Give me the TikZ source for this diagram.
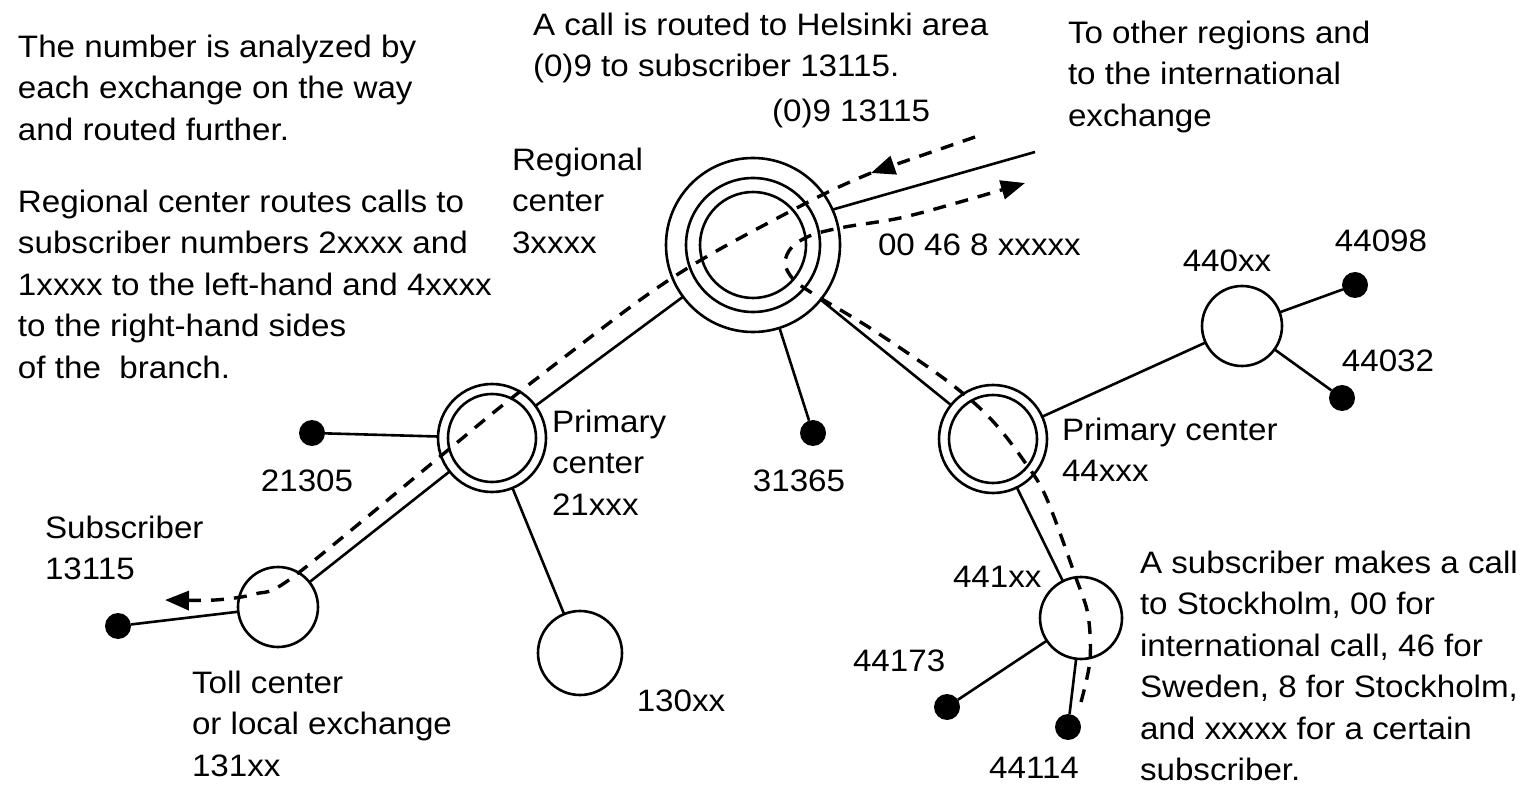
\documentclass[tikz,border=0pt]{standalone}
\usepackage{fontspec}
\setmainfont{Liberation Sans}[FakeStretch=1.07]
\usetikzlibrary{arrows.meta}
\begin{document}
\begin{tikzpicture}[x=0.5pt,y=-0.5pt,
  every node/.style={inner sep=0pt,outer sep=0pt},
  txt/.style={font=\fontsize{15.5}{20.75}\selectfont},
  lbl/.style={txt,anchor=base west},
  clbl/.style={txt,anchor=base},
  blk/.style={txt,anchor=north west,align=left},
  exch/.style={circle,draw,line width=1.3pt,minimum size=#1},
  subdot/.style={circle,fill,minimum size=13pt},
  link/.style={line width=1.3pt},
  route/.style={line width=1.7pt,dash pattern=on 6.5pt off 5pt},
  tip/.style={-{Triangle[length=12pt,width=9.5pt]}}
]
\path[use as bounding box,fill=white] (0,0) rectangle (1535,785);

% exchanges
\node[exch=87pt] (R) at (753,245) {};
\node[exch=67pt] (Rmid) at (R.center) {};
\node[exch=53pt] (Rin) at (R.center) {};
\node[exch=54pt] (P1) at (492,438) {};
\node[exch=44pt] (P1in) at (P1.center) {};
\node[exch=54pt] (P2) at (993,439) {};
\node[exch=44pt] (P2in) at (P2.center) {};
\node[exch=40pt] (T) at (278,607) {};
\node[exch=42pt] (C130) at (580,653) {};
\node[exch=41pt] (C441) at (1081,618) {};
\node[exch=40pt] (C440) at (1242,326) {};

% subscribers
\node[subdot] (Dsub) at (118,626) {};
\node[subdot] (D21305) at (312,433) {};
\node[subdot] (D31365) at (813,433) {};
\node[subdot] (D44098) at (1355,285) {};
\node[subdot] (D44032) at (1342,398) {};
\node[subdot] (D44173) at (947,707) {};
\node[subdot] (D44114) at (1068,727) {};
\coordinate (Ext) at (1035,152);

% links
\draw[link] (R.24) -- (Ext);
\draw[link] (R) -- (P1);
\draw[link] (R) -- (P2);
\draw[link] (R) -- (D31365);
\draw[link] (P1) -- (D21305);
\draw[link] (P1) -- (T);
\draw[link] (P1) -- (C130);
\draw[link] (T) -- (Dsub);
\draw[link] (P2) -- (C440);
\draw[link] (P2) -- (C441);
\draw[link] (C440) -- (D44098);
\draw[link] (C440) -- (D44032);
\draw[link] (C441) -- (D44173);
\draw[link] (C441) -- (D44114);

% routes
\coordinate (InS) at (975,137);
\coordinate (InA) at (871,173);
\draw[route,tip] (InS) -- (InA);
\draw[route,tip] plot[smooth,tension=0.5] coordinates {(871,173) (820,196) (713,253) (640,300) (513,397) (442,455) (293,577) (255,594) (215,600) (165,600)};
\draw[route,tip] plot[smooth,tension=0.55] coordinates {(1081,702) (1090,660) (1088,615) (1076,578) (1046,497) (1024,461) (998,427) (972,401) (935,372) (870,328) (812,293) (793,279) (785,263) (792,247) (812,235) (845,227) (900,218) (960,202) (1025,183)};

% texts
\node[blk] (tA) at (18,28) {\strut The number is analyzed by\\each exchange on the way\\and routed further.};
\node[blk] (tB) at (18,183) {\strut Regional center routes calls to\\subscriber numbers 2xxxx and\\1xxxx to the left-hand and 4xxxx\\to the right-hand sides\\of the\ \ branch.};
\node[blk] (tC) at (533,6) {\strut A call is routed to Helsinki area\\(0)9 to subscriber 13115.};
\node[lbl] (tD) at (772,122) {(0)9 13115};
\node[blk] (tE) at (1068,14) {\strut To other regions and\\to the international\\exchange};
\node[blk] (tF) at (512,141) {\strut Regional\\center\\3xxxx};
\node[lbl] (tG) at (878,256) {00 46 8 xxxxx};
\node[clbl] (t440) at (1227,272) {440xx};
\node[clbl] (t44098) at (1381,252) {44098};
\node[clbl] (t44032) at (1388,372) {44032};
\node[blk] (tP2) at (1062,411) {\strut Primary center\\44xxx};
\node[blk] (tP1) at (552,403) {\strut Primary\\center\\21xxx};
\node[clbl] (t21305) at (307,492) {21305};
\node[clbl] (t31365) at (799,492) {31365};
\node[blk] (tSub) at (45,509) {\strut Subscriber\\13115};
\node[blk] (tT) at (192,664) {\strut Toll center\\or local exchange\\131xx};
\node[clbl] (t130) at (681,711) {130xx};
\node[lbl] (t441) at (953,587) {441xx};
\node[lbl] (t44173) at (853,671) {44173};
\node[clbl] (t44114) at (1034,778) {44114};
\node[blk] (tR) at (1140,544) {\strut A subscriber makes a call\\to Stockholm, 00 for\\international call, 46 for\\Sweden, 8 for Stockholm,\\and xxxxx for a certain\\subscriber.};
\end{tikzpicture}
\end{document}
